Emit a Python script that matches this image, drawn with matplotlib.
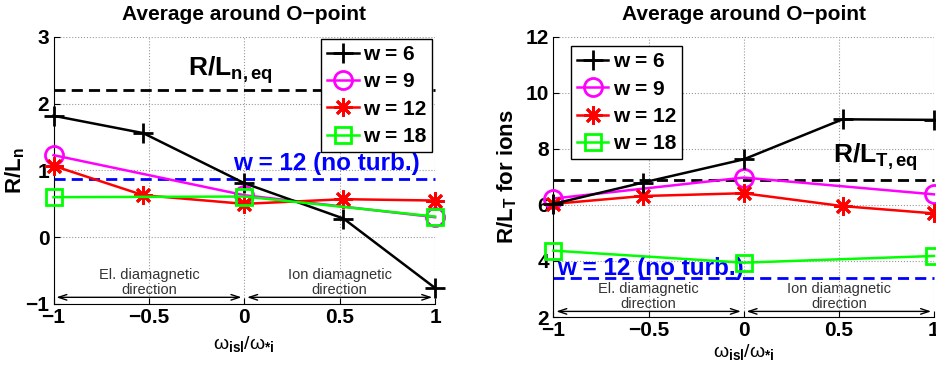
import numpy as np
import matplotlib
matplotlib.use("Agg")
import matplotlib.pyplot as plt

plt.rcParams['font.family'] = ['Liberation Sans', 'DejaVu Sans']
plt.rcParams['mathtext.fontset'] = 'custom'
plt.rcParams['mathtext.rm'] = 'Liberation Sans'
plt.rcParams['mathtext.it'] = 'Liberation Sans'
plt.rcParams['mathtext.bf'] = 'Liberation Sans:bold'

# omega_isl / omega_*i
x_full = [-1, -0.53, 0, 0.52, 1]
x_part = [-1, 0, 1]

# R/L_n
rln_w6 = [1.82, 1.56, 0.81, 0.28, -0.76]
rln_w9 = [1.23, 0.63, 0.30]
rln_w12 = [1.07, 0.63, 0.50, 0.57, 0.55]
rln_w18 = [0.60, 0.61, 0.31]
rln_eq = 2.21
rln_noturb = 0.87

# R/L_T for ions
rlt_w6 = [6.04, 6.80, 7.63, 9.06, 9.04]
rlt_w9 = [6.23, 6.98, 6.38]
rlt_w12 = [6.04, 6.32, 6.42, 5.96, 5.70]
rlt_w18 = [4.37, 3.94, 4.18]
rlt_eq = 6.89
rlt_noturb = 3.40

labels = ['w = 6', 'w = 9', 'w = 12', 'w = 18']

fig = plt.figure(figsize=(9.36, 3.74), dpi=100)
ax1 = fig.add_axes([0.0572, 0.1872, 0.4076, 0.7139])
ax2 = fig.add_axes([0.5913, 0.1524, 0.4065, 0.7487])

lw = 1.8
star = (8, 2, 0)
dash = (4, 2.2)


def draw(ax, s6, s9, s12, s18):
    ax.plot(x_full, s6, '-', color='k', marker='+', ms=14, mew=2, lw=lw,
            label=labels[0], clip_on=False, zorder=5)
    ax.plot(x_part, s9, '-', color='#ff00ff', marker='o', ms=13, mew=2, mfc='none',
            lw=lw, label=labels[1], clip_on=False, zorder=4)
    ax.plot(x_full, s12, '-', color='#ff0000', marker=star, ms=13, mew=2, lw=lw,
            label=labels[2], clip_on=False, zorder=4)
    ax.plot(x_part, s18, '-', color='#00ff00', marker='s', ms=12, mew=2, mfc='none',
            lw=lw, label=labels[3], clip_on=False, zorder=6)


def style(ax, ylim, yticks):
    ax.set_xlim(-1, 1)
    ax.set_ylim(*ylim)
    ax.set_xticks([-1, -0.5, 0, 0.5, 1])
    ax.set_xticklabels(['\u22121', '\u22120.5', '0', '0.5', '1'])
    ax.set_yticks(yticks)
    ax.set_yticklabels([str(t).replace('-', '\u2212') for t in yticks])
    ax.spines['top'].set_visible(False)
    ax.spines['right'].set_visible(False)
    ax.grid(True, linestyle=':', color='#999999', lw=0.8)
    ax.tick_params(direction='in', length=4, labelsize=15, pad=3)
    for t in ax.get_xticklabels() + ax.get_yticklabels():
        t.set_fontweight('bold')
    ax.set_title('Average around O\u2212point', fontsize=15, fontweight='bold', pad=12)


def legend(ax, loc, anchor):
    leg = ax.legend(loc=loc, bbox_to_anchor=anchor, borderaxespad=0,
                    fancybox=False, framealpha=1, edgecolor='k', numpoints=1,
                    prop={'weight': 'bold', 'size': 15}, handlelength=1.5,
                    handletextpad=0.2, borderpad=0.3, labelspacing=0.4)
    leg.get_frame().set_linewidth(1.0)
    leg.set_zorder(10)


def arrows(ax, y):
    kw = dict(arrowstyle='<->,head_length=0.6,head_width=0.2', color='k', lw=1)
    ax.annotate('', xy=(-1, y), xytext=(0, y), arrowprops=kw)
    ax.annotate('', xy=(1, y), xytext=(0, y), arrowprops=kw)


def directions(ax, y):
    ax.text(-0.5, y, 'El. diamagnetic\ndirection', fontsize=10.5, ha='center', va='center',
            color='#333333', linespacing=1.1)
    ax.text(0.5, y, 'Ion diamagnetic\ndirection', fontsize=10.5, ha='center', va='center',
            color='#333333', linespacing=1.1)


# left panel
draw(ax1, rln_w6, rln_w9, rln_w12, rln_w18)
ax1.plot([-1, 1], [rln_eq, rln_eq], '--', color='k', lw=2, dashes=dash, clip_on=False)
ax1.plot([-1, 1], [rln_noturb, rln_noturb], '--', color='#0000ff', lw=2, dashes=dash, clip_on=False)
style(ax1, (-1, 3), [-1, 0, 1, 2, 3])
ax1.text(-0.295, 2.42, r'$\mathbf{R/L}_{\mathbf{n,eq}}$', fontsize=19)
ax1.text(-0.06, 1.0, 'w = 12 (no turb.)', fontsize=17.5, fontweight='bold', color='#0000ff')
directions(ax1, -0.68)
arrows(ax1, -0.9)
ax1.set_ylabel(r'$\mathbf{R/L}_{\mathbf{n}}$', fontsize=16)
ax1.yaxis.set_label_coords(-0.07, 0.5)
ax1.set_xlabel(r'$\omega_{\mathbf{isl}}/\omega_{\mathbf{*i}}$', fontsize=14, labelpad=5)
legend(ax1, 'upper right', (0.993, 0.993))

# right panel
draw(ax2, rlt_w6, rlt_w9, rlt_w12, rlt_w18)
ax2.plot([-1, 1], [rlt_eq, rlt_eq], '--', color='k', lw=2, dashes=dash, clip_on=False)
ax2.plot([-1, 1], [rlt_noturb, rlt_noturb], '--', color='#0000ff', lw=2, dashes=dash, clip_on=False)
style(ax2, (2, 12), [2, 4, 6, 8, 10, 12])
ax2.text(0.47, 7.5, r'$\mathbf{R/L}_{\mathbf{T,eq}}$', fontsize=19)
ax2.text(-0.98, 3.5, 'w = 12 (no turb.)', fontsize=17.5, fontweight='bold', color='#0000ff')
directions(ax2, 2.73)
arrows(ax2, 2.2)
ax2.set_ylabel(r'$\mathbf{R/L}_{\mathbf{T}}$ for ions', fontsize=16, fontweight='bold')
ax2.yaxis.set_label_coords(-0.091, 0.5)
ax2.set_xlabel(r'$\omega_{\mathbf{isl}}/\omega_{\mathbf{*i}}$', fontsize=14, labelpad=1)
legend(ax2, 'upper left', (0.046, 0.968))

fig.savefig('out.png', dpi=100)
